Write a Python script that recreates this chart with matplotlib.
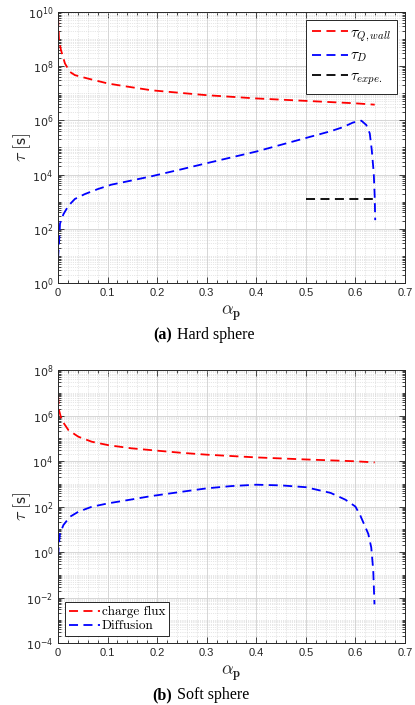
import numpy as np
import matplotlib
matplotlib.use("Agg")
import matplotlib.pyplot as plt
from matplotlib.ticker import FixedLocator, LogLocator, MultipleLocator, NullFormatter

plt.rcParams['mathtext.fontset'] = 'cm'
plt.rcParams['font.family'] = ['Liberation Sans', 'DejaVu Sans']

# (a) hard sphere, log10 of tau in seconds
a_wall_hard = [0, 0.002, 0.006, 0.014, 0.024, 0.034, 0.061, 0.101, 0.135,
               0.189, 0.25, 0.3, 0.4, 0.5, 0.6, 0.639]
logtau_wall_hard = [9.83, 8.96, 8.59, 8.1, 7.79, 7.67, 7.54, 7.36, 7.26,
                    7.11, 7.01, 6.93, 6.81, 6.72, 6.63, 6.58]

a_diff_hard = [0, 0.002, 0.004, 0.011, 0.021, 0.034, 0.054, 0.081, 0.108,
               0.148, 0.189, 0.25, 0.3, 0.4, 0.5, 0.55, 0.575, 0.595, 0.612,
               0.622, 0.629, 0.633, 0.637, 0.639, 0.640]
logtau_diff_hard = [0.89, 1.44, 2.19, 2.54, 2.85, 3.1, 3.28, 3.47, 3.63,
                    3.78, 3.94, 4.2, 4.42, 4.85, 5.35, 5.6, 5.75, 5.92, 5.99,
                    5.83, 5.52, 4.91, 4.06, 3.18, 2.32]

a_expe = [0.5, 0.639]
logtau_expe = [3.09, 3.09]

# (b) soft sphere
a_flux_soft = [0, 0.002, 0.0074, 0.021, 0.041, 0.068, 0.101, 0.148, 0.188,
               0.25, 0.3, 0.4, 0.5, 0.6, 0.639]
logtau_flux_soft = [6.9, 6.24, 5.8, 5.36, 5.07, 4.85, 4.70, 4.56, 4.48,
                    4.36, 4.28, 4.16, 4.07, 3.99, 3.94]

a_diff_soft = [0, 0.002, 0.004, 0.011, 0.024, 0.041, 0.068, 0.101, 0.148,
               0.188, 0.25, 0.3, 0.35, 0.4, 0.45, 0.5, 0.55, 0.58, 0.6, 0.61,
               0.62, 0.626, 0.632, 0.636, 0.6385]
logtau_diff_soft = [-0.2, 0.38, 0.82, 1.19, 1.55, 1.77, 1.99, 2.14, 2.31,
                    2.46, 2.65, 2.8, 2.9, 2.96, 2.93, 2.85, 2.6, 2.3, 2.0, 1.6,
                    1.1, 0.8, 0.2, -0.8, -2.3]

xticks = [0, 0.1, 0.2, 0.3, 0.4, 0.5, 0.6, 0.7]
xticklabels = ['0', '0.1', '0.2', '0.3', '0.4', '0.5', '0.6', '0.7']
ax_col = '#262626'


def style_axes(ax, ymin, ymax, h_px):
    ax.set_yscale('log')
    ax.set_xlim(0, 0.7)
    ax.set_ylim(10.0 ** ymin, 10.0 ** ymax)
    ax.set_xticks(xticks)
    ax.set_xticklabels(xticklabels)
    ax.xaxis.set_minor_locator(MultipleLocator(0.02))
    exps = list(range(ymin, ymax + 1, 2))
    ax.yaxis.set_major_locator(FixedLocator([10.0 ** k for k in exps]))
    ax.set_yticklabels([r'$10^{%d}$' % k for k in exps], math_fontfamily='dejavusans')
    ax.yaxis.set_minor_locator(LogLocator(base=10, subs=np.arange(1, 10), numticks=100))
    ax.yaxis.set_minor_formatter(NullFormatter())
    ax.tick_params(which='both', direction='in', top=True, right=True,
                   colors=ax_col, labelsize=8, width=0.6)
    ax.tick_params(which='major', length=4)
    ax.tick_params(which='minor', length=2)
    for s in ax.spines.values():
        s.set_color(ax_col)
        s.set_linewidth(0.7)
    ax.grid(True, which='major', color='#d0d0d0', linewidth=0.6, linestyle='-')
    ax.grid(True, which='minor', color='#cfcfcf', linewidth=0.5, linestyle=':')
    ax.set_axisbelow(True)
    ax.set_xlabel(r'$\alpha_{\mathbf{p}}$', fontsize=13, color=ax_col, va='center')
    ax.set_ylabel(r'$\tau\;[\mathsf{s}]$', fontsize=13, color=ax_col, va='center')
    ax.xaxis.set_label_coords(0.5, -30 / h_px)
    ax.yaxis.set_label_coords(-36 / 347, 0.5)


fig = plt.figure(figsize=(4.15, 7.05), dpi=100)
ax1 = fig.add_axes([0.1398, 0.5986, 0.836, 0.3844])
ax2 = fig.add_axes([0.1398, 0.0879, 0.836, 0.3872])

dash = (5, 3)
lw = 1.3

ax1.plot(a_wall_hard, 10.0 ** np.array(logtau_wall_hard), color='#ff0000',
         linestyle='--', dashes=dash, linewidth=lw, label=r'$\tau_{Q,wall}$')
ax1.plot(a_diff_hard, 10.0 ** np.array(logtau_diff_hard), color='#0000ff',
         linestyle='--', dashes=dash, linewidth=lw, label=r'$\tau_{D}$')
ax1.plot(a_expe, 10.0 ** np.array(logtau_expe), color='black',
         linestyle='--', dashes=dash, linewidth=lw, label=r'$\tau_{expe.}$')
style_axes(ax1, 0, 10, 271)
leg1 = ax1.legend(loc='upper right', fontsize=11, frameon=True, fancybox=False,
                  edgecolor=ax_col, framealpha=1, handlelength=2.4,
                  handletextpad=0.1, borderpad=0.4, labelspacing=0.35,
                  borderaxespad=0.5)
leg1.get_frame().set_linewidth(0.7)

ax2.plot(a_flux_soft, 10.0 ** np.array(logtau_flux_soft), color='#ff0000',
         linestyle='--', dashes=dash, linewidth=lw, label='charge flux')
ax2.plot(a_diff_soft, 10.0 ** np.array(logtau_diff_soft), color='#0000ff',
         linestyle='--', dashes=dash, linewidth=lw, label='Diffusion')
style_axes(ax2, -4, 8, 273)
leg2 = ax2.legend(loc='lower left', frameon=True, fancybox=False,
                  edgecolor=ax_col, framealpha=1, handlelength=2.4,
                  handletextpad=0.1, borderpad=0.3, labelspacing=0.15,
                  borderaxespad=0.5, prop={'family': 'cmr10', 'size': 9.5})
leg2.get_frame().set_linewidth(0.7)

# captions
for ytop, tag, name in [(335, '(a)', ' Hard sphere'), (695, '(b)', ' Soft sphere')]:
    yf = 1 - ytop / 705
    fig.text(172 / 415, yf, tag, ha='right', va='center', fontsize=11.5,
             fontweight='bold', family='Liberation Serif')
    fig.text(173 / 415, yf, name, ha='left', va='center', fontsize=11.5,
             family='Liberation Serif')

fig.savefig('out.png', dpi=100)
